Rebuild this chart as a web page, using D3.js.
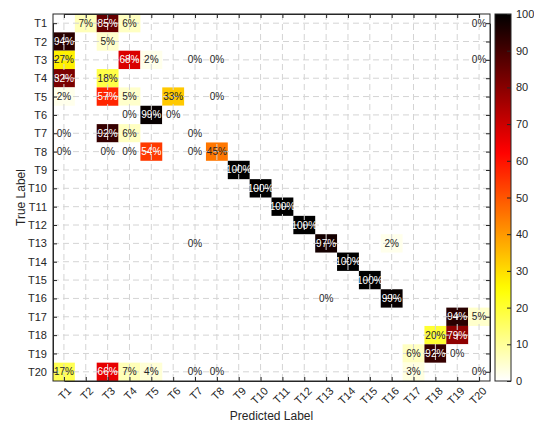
<!DOCTYPE html>
<html>
<head>
<meta charset="utf-8">
<script src="https://cdn.jsdelivr.net/npm/d3@7"></script>
<style>
  body { margin: 0; background: #fff; }
  text { font-family: "Liberation Sans", Arial, sans-serif; }
</style>
</head>
<body>
<svg id="chart" width="534" height="426"></svg>
<script>
// class names on both axes
const labels = d3.range(1, 21).map(i => "T" + i);

// non-empty cells: [true label, predicted label, percent]
const cells = [
  ["T1", "T2", 7], ["T1", "T3", 85], ["T1", "T4", 6], ["T1", "T20", 0],
  ["T2", "T1", 94], ["T2", "T3", 5],
  ["T3", "T1", 27], ["T3", "T4", 68], ["T3", "T5", 2], ["T3", "T7", 0], ["T3", "T8", 0], ["T3", "T20", 0],
  ["T4", "T1", 82], ["T4", "T3", 18],
  ["T5", "T1", 2], ["T5", "T3", 57], ["T5", "T4", 5], ["T5", "T6", 33], ["T5", "T8", 0],
  ["T6", "T4", 0], ["T6", "T5", 99], ["T6", "T6", 0],
  ["T7", "T1", 0], ["T7", "T3", 92], ["T7", "T4", 6], ["T7", "T7", 0],
  ["T8", "T1", 0], ["T8", "T3", 0], ["T8", "T4", 0], ["T8", "T5", 54], ["T8", "T7", 0], ["T8", "T8", 45],
  ["T9", "T9", 100],
  ["T10", "T10", 100],
  ["T11", "T11", 100],
  ["T12", "T12", 100],
  ["T13", "T7", 0], ["T13", "T13", 97], ["T13", "T16", 2],
  ["T14", "T14", 100],
  ["T15", "T15", 100],
  ["T16", "T13", 0], ["T16", "T16", 99],
  ["T17", "T19", 94], ["T17", "T20", 5],
  ["T18", "T18", 20], ["T18", "T19", 79],
  ["T19", "T17", 6], ["T19", "T18", 92], ["T19", "T19", 0],
  ["T20", "T1", 17], ["T20", "T3", 66], ["T20", "T4", 7], ["T20", "T5", 4], ["T20", "T7", 0], ["T20", "T8", 0],
  ["T20", "T17", 3], ["T20", "T20", 0]
];

const cbTicks = d3.range(0, 101, 10);

const svg = d3.select("#chart");
const margin = {top: 14, left: 53, right: 44, bottom: 45};
const plotW = 490 - margin.left;
const plotH = 381 - margin.top;
const axisCol = "#262626";

// flipped matlab "hot"
function hot(v) {
  const t = 1 - v / 100;
  const r = Math.min(1, t / 0.375);
  const g = Math.max(0, Math.min(1, (t - 0.375) / 0.375));
  const b = Math.max(0, Math.min(1, (t - 0.75) / 0.25));
  return d3.rgb(r * 255, g * 255, b * 255).formatHex();
}

const x = d3.scaleBand().domain(labels).range([0, plotW]);
const y = d3.scaleBand().domain(labels).range([0, plotH]);

const g = svg.append("g").attr("transform", `translate(${margin.left},${margin.top})`);

// cells
g.selectAll("rect.cell").data(cells).join("rect")
  .attr("class", "cell")
  .attr("x", d => x(d[1]))
  .attr("y", d => y(d[0]))
  .attr("width", x.bandwidth())
  .attr("height", y.bandwidth())
  .attr("fill", d => hot(d[2]));

// dashed grid at category centres
const grid = g.append("g").attr("stroke", "#d4d4d4").attr("stroke-dasharray", "6,4").attr("stroke-width", 1);
labels.forEach(l => {
  const cx = x(l) + x.bandwidth() / 2;
  const cy = y(l) + y.bandwidth() / 2;
  grid.append("line").attr("x1", cx).attr("x2", cx).attr("y1", 0).attr("y2", plotH);
  grid.append("line").attr("x1", 0).attr("x2", plotW).attr("y1", cy).attr("y2", cy);
});

// cell text
g.selectAll("text.val").data(cells).join("text")
  .attr("class", "val")
  .attr("x", d => x(d[1]) + x.bandwidth() / 2)
  .attr("y", d => y(d[0]) + y.bandwidth() / 2)
  .attr("dy", "0.35em")
  .attr("text-anchor", "middle")
  .attr("font-size", 10)
  .attr("fill", d => d[2] >= 50 ? "#fff" : "#262626")
  .text(d => d[2] + "%");

// axes (box with inward ticks)
const xb = d3.scalePoint().domain(labels).range([x.bandwidth() / 2, plotW - x.bandwidth() / 2]);
const yb = d3.scalePoint().domain(labels).range([y.bandwidth() / 2, plotH - y.bandwidth() / 2]);

const xAxis = g.append("g").attr("transform", `translate(0,${plotH})`)
  .call(d3.axisBottom(xb).tickSizeInner(-4).tickSizeOuter(0));
xAxis.selectAll("text")
  .attr("x", 0).attr("y", 0).attr("dy", "0.35em")
  .attr("text-anchor", "end")
  .attr("transform", "translate(5,8) rotate(-45)");
const yAxis = g.append("g").call(d3.axisLeft(yb).tickSizeInner(-4).tickSizeOuter(0).tickPadding(6));
g.append("g").call(d3.axisTop(xb).tickSizeInner(-4).tickSizeOuter(0).tickFormat(""));
g.append("g").attr("transform", `translate(${plotW},0)`)
  .call(d3.axisRight(yb).tickSizeInner(-4).tickSizeOuter(0).tickFormat(""));
g.selectAll(".domain, .tick line").attr("stroke", axisCol);
g.selectAll(".tick text").attr("font-size", 11).attr("fill", axisCol);
g.append("rect").attr("width", plotW).attr("height", plotH)
  .attr("fill", "none").attr("stroke", axisCol).attr("stroke-width", 1);

// axis titles
svg.append("text")
  .attr("x", margin.left + plotW / 2).attr("y", 420)
  .attr("text-anchor", "middle").attr("font-size", 12).attr("fill", axisCol)
  .text("Predicted Label");
svg.append("text")
  .attr("transform", `translate(25,${margin.top + plotH / 2}) rotate(-90)`)
  .attr("text-anchor", "middle").attr("font-size", 12).attr("fill", axisCol)
  .text("True Label");

// colorbar
const cbX = 495, cbW = 16;
const cy = d3.scaleLinear().domain([0, 100]).range([381, 14]);
const defs = svg.append("defs");
const grad = defs.append("linearGradient").attr("id", "cbgrad")
  .attr("x1", 0).attr("x2", 0).attr("y1", 1).attr("y2", 0);
d3.range(0, 101, 2).forEach(v => {
  grad.append("stop").attr("offset", v / 100).attr("stop-color", hot(v));
});
svg.append("rect").attr("x", cbX).attr("y", cy(100)).attr("width", cbW)
  .attr("height", cy(0) - cy(100)).attr("fill", "url(#cbgrad)");
const cbAxis = svg.append("g").attr("transform", `translate(${cbX + cbW},0)`)
  .call(d3.axisRight(cy).tickValues(cbTicks).tickSizeInner(-4).tickSizeOuter(0).tickPadding(5));
cbAxis.selectAll(".domain").remove();
cbAxis.selectAll(".tick line").attr("stroke", axisCol);
cbAxis.selectAll(".tick text").attr("font-size", 11).attr("fill", axisCol);
svg.append("rect").attr("x", cbX).attr("y", cy(100)).attr("width", cbW)
  .attr("height", cy(0) - cy(100)).attr("fill", "none").attr("stroke", axisCol);
</script>
</body>
</html>
